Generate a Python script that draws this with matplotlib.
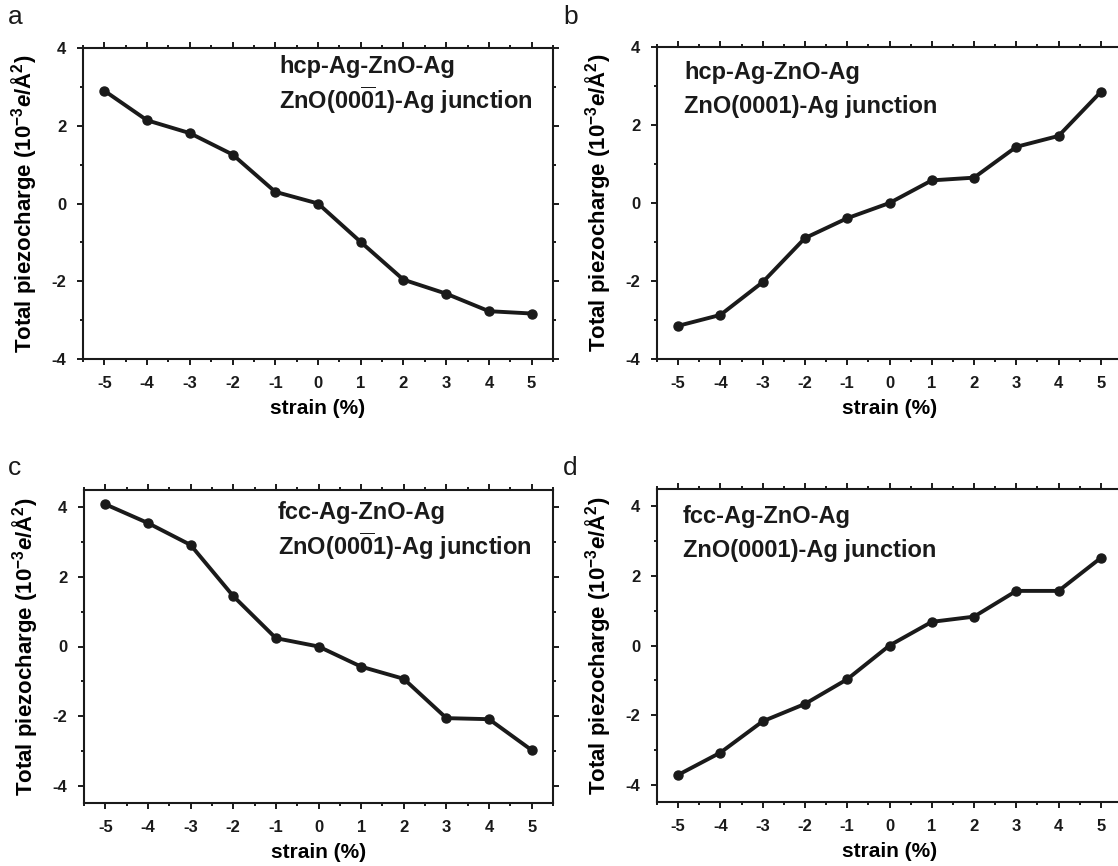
import numpy as np
import matplotlib
matplotlib.use("Agg")
import matplotlib.pyplot as plt
from matplotlib.ticker import MultipleLocator

plt.rcParams['font.family'] = ['Liberation Sans', 'DejaVu Sans']
plt.rcParams['mathtext.fontset'] = 'custom'
plt.rcParams['mathtext.rm'] = 'Liberation Sans:bold'
plt.rcParams['mathtext.bf'] = 'Liberation Sans:bold'
plt.rcParams['mathtext.it'] = 'Liberation Sans:bold:italic'
plt.rcParams['axes.unicode_minus'] = False

# data
strain = [-5, -4, -3, -2, -1, 0, 1, 2, 3, 4, 5]
charge_a = [2.90, 2.14, 1.81, 1.26, 0.30, 0.0, -0.99, -1.96, -2.32, -2.77, -2.83]
charge_b = [-3.15, -2.87, -2.03, -0.90, -0.39, 0.0, 0.58, 0.65, 1.44, 1.72, 2.85]
charge_c = [4.09, 3.55, 2.92, 1.45, 0.24, 0.0, -0.58, -0.93, -2.06, -2.09, -2.98]
charge_d = [-3.72, -3.08, -2.18, -1.68, -0.97, 0.0, 0.68, 0.83, 1.57, 1.57, 2.52]

titles = {
    'a': ("hcp-Ag-ZnO-Ag", r"ZnO(00$\mathbf{\overline{0}}$1)-Ag junction"),
    'b': ("hcp-Ag-ZnO-Ag", "ZnO(0001)-Ag junction"),
    'c': ("fcc-Ag-ZnO-Ag", r"ZnO(00$\mathbf{\overline{0}}$1)-Ag junction"),
    'd': ("fcc-Ag-ZnO-Ag", "ZnO(0001)-Ag junction"),
}

W, H = 1118, 866
fig = plt.figure(figsize=(W / 100, H / 100), dpi=100)

def px_axes(left, top, right, bottom):
    return fig.add_axes([left / W, 1 - bottom / H, (right - left) / W, (bottom - top) / H])

# panel: (letter, data, box px, ylim, text x px, text y px, letter pos)
panels = [
    ('a', charge_a, (83, 48, 553, 359), (-4, 4), 279, 66, (8, 17)),
    ('b', charge_b, (657, 47, 1122, 359), (-4, 4), 684, 72, (563, 17)),
    ('c', charge_c, (84, 490, 553, 803), (-4.5, 4.5), 278, 512, (8, 468)),
    ('d', charge_d, (657, 489, 1122, 802), (-4.5, 4.5), 683, 516, (563, 468)),
]

ylabel = r"Total piezocharge (10$^{-3}$$e$/Å$^{2}$)"

for letter, vals, box, ylim, tx, ty, lpos in panels:
    ax = px_axes(*box)
    ax.plot(strain, vals, color='#1a1a1a', lw=2.8, marker='o', ms=6.5, mfc='#1a1a1a', mec='#1a1a1a')
    ax.set_xlim(-5.5, 5.5)
    ax.set_ylim(*ylim)
    ax.xaxis.set_major_locator(MultipleLocator(1))
    ax.xaxis.set_minor_locator(MultipleLocator(0.5))
    ax.yaxis.set_major_locator(MultipleLocator(2))
    ax.yaxis.set_minor_locator(MultipleLocator(1))
    ax.tick_params(which='both', direction='out', top=True, right=True, width=1.4, colors='#1a1a1a')
    ax.tick_params(which='major', length=4.5, labelsize=12, pad=7.5)
    ax.tick_params(which='minor', length=2.5)
    for lab in ax.get_xticklabels() + ax.get_yticklabels():
        lab.set_fontweight('bold')
    for s in ax.spines.values():
        s.set_linewidth(1.5)
        s.set_color('#1a1a1a')
    ax.set_xlabel("strain (%)", fontsize=15, fontweight='bold', labelpad=6)
    ax.set_ylabel(ylabel, fontsize=16, fontweight='bold', labelpad=9)
    l1, l2 = titles[letter]
    fig.text(tx / W, 1 - ty / H, l1, fontsize=17, fontweight='bold', va='center', color='#1a1a1a')
    fig.text(tx / W, 1 - (ty + 34) / H, l2, fontsize=17, fontweight='bold', va='center', color='#1a1a1a')
    fig.text(lpos[0] / W, 1 - lpos[1] / H, letter, fontsize=19, va='center', color='#1a1a1a')

fig.savefig("out.png", dpi=100)
